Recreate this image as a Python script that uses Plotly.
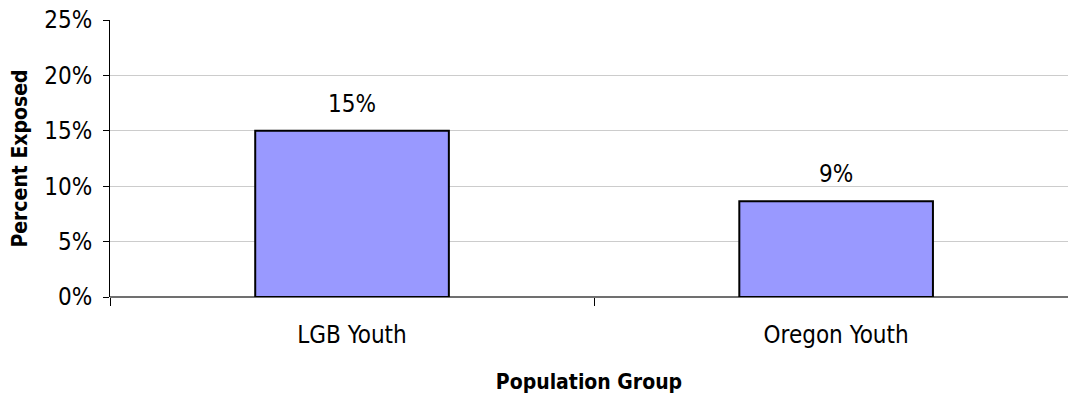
import plotly.graph_objects as go

# Share of youth exposed, by population group
groups = ["LGB Youth", "Oregon Youth"]
percent_exposed = [15.0, 8.65]
y_ticks = [0, 5, 10, 15, 20, 25]
y_tick_text = ["0%", "5%", "10%", "15%", "20%", "25%"]

FONT = "Liberation Sans Narrow, DejaVu Sans Condensed, Arial Narrow, sans-serif"

fig = go.Figure(
    go.Bar(
        x=groups,
        y=percent_exposed,
        width=0.4,
        marker=dict(color="#9999FF", line=dict(color="#000000", width=2)),
    )
)

# Value labels above each bar
for g, v in zip(groups, percent_exposed):
    fig.add_annotation(
        x=g, y=v, text=f"{v:.0f}%", showarrow=False,
        yanchor="bottom", yshift=11,
        font=dict(family=FONT, size=24, color="#000000"),
    )

fig.update_layout(
    width=1068,
    height=394,
    margin=dict(l=110, r=0, t=20, b=97),
    paper_bgcolor="#FFFFFF",
    plot_bgcolor="#FFFFFF",
    showlegend=False,
    font=dict(family=FONT, size=24, color="#000000"),
)

fig.update_xaxes(
    type="category",
    range=[-0.5, 1.479],
    tickson="boundaries",
    ticks="outside",
    ticklen=8,
    tickcolor="#000000",
    showline=False,
    showgrid=False,
    ticklabelstandoff=21,
    tickfont=dict(family=FONT, size=24),
    title=dict(text="<b>Population Group</b>", font=dict(family=FONT, size=21), standoff=26),
)

fig.update_yaxes(
    range=[0, 25],
    tickvals=y_ticks,
    ticktext=y_tick_text,
    ticks="outside",
    ticklen=6,
    tickcolor="#000000",
    showline=True,
    linecolor="#000000",
    linewidth=1,
    showgrid=True,
    gridcolor="#CCCCCC",
    gridwidth=1,
    zeroline=True,
    zerolinecolor="#707070",
    zerolinewidth=2,
    ticklabelstandoff=6,
    tickfont=dict(family=FONT, size=24),
    title=dict(text="<b>Percent Exposed</b>", font=dict(family=FONT, size=21), standoff=10),
)

fig.write_html("out.html")
